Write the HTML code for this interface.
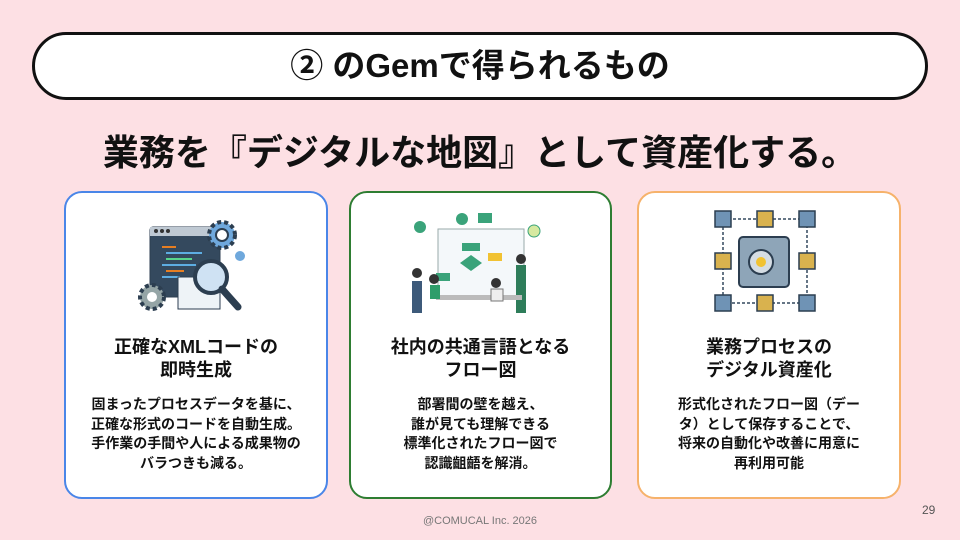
<!DOCTYPE html>
<html><head><meta charset="utf-8"><style>
*{margin:0;padding:0;box-sizing:border-box}
body{width:960px;height:540px;background:#fde0e4;font-family:"Liberation Sans","Noto Sans CJK JP",sans-serif;position:relative;overflow:hidden;color:#111}
.title{position:absolute;left:32px;top:32px;width:896px;height:68px;border:3px solid #111;border-radius:34px;background:#fff;text-align:center;font-size:33px;font-weight:bold;line-height:62px}
.head{position:absolute;left:0;width:960px;top:128px;text-align:center;font-size:36px;font-weight:bold;line-height:50px}
.card{position:absolute;top:191px;height:308px;background:#fff;border:2px solid;border-radius:18px;text-align:center}
.ct{position:absolute;left:0;right:0;font-size:18px;font-weight:bold;line-height:23px}
.cb{position:absolute;left:0;right:0;top:202px;font-size:14px;font-weight:bold;line-height:19.5px}
svg{position:absolute}
</style></head><body>
<div class="title">② のGemで得られるもの</div>
<div class="head">業務を『デジタルな地図』として資産化する。</div>

<div class="card" style="left:64px;width:264px;border-color:#4a86e8">
<svg style="left:70px;top:22px" width="122" height="100" viewBox="0 0 122 100">
<rect x="14" y="12" width="70" height="70" rx="3" fill="#34495e" stroke="#2c3e50"/>
<rect x="14" y="12" width="70" height="9" fill="#bfc9d3"/>
<circle cx="20" cy="16" r="2" fill="#333"/><circle cx="26" cy="16" r="2" fill="#333"/><circle cx="32" cy="16" r="2" fill="#333"/>
<g stroke-width="2"><line x1="26" y1="32" x2="40" y2="32" stroke="#e67e22"/><line x1="30" y1="38" x2="66" y2="38" stroke="#5dade2"/><line x1="30" y1="44" x2="56" y2="44" stroke="#58d68d"/><line x1="26" y1="50" x2="60" y2="50" stroke="#5dade2"/><line x1="30" y1="56" x2="48" y2="56" stroke="#e67e22"/><line x1="26" y1="62" x2="44" y2="62" stroke="#5dade2"/></g>
<circle cx="86" cy="20" r="13" fill="#6fa8dc" stroke="#2c3e50" stroke-width="4" stroke-dasharray="4 3"/>
<circle cx="86" cy="20" r="6" fill="#fff" stroke="#2c3e50" stroke-width="2"/>
<circle cx="16" cy="82" r="12" fill="#95a5a6" stroke="#2c3e50" stroke-width="4" stroke-dasharray="4 3"/>
<circle cx="16" cy="82" r="5" fill="#fff"/>
<rect x="42" y="62" width="42" height="32" fill="#eef3f7" stroke="#2c3e50"/>
<circle cx="75" cy="62" r="16" fill="#cfe2f3" stroke="#2c3e50" stroke-width="4"/>
<line x1="86" y1="74" x2="102" y2="92" stroke="#2c3e50" stroke-width="7" stroke-linecap="round"/>
<circle cx="104" cy="41" r="5" fill="#6fa8dc"/>
</svg>
<div class="ct" style="top:143px">正確なXMLコードの<br>即時生成</div>
<div class="cb">固まったプロセスデータを基に、<br>正確な形式のコードを自動生成。<br>手作業の手間や人による成果物の<br>バラつきも減る。</div>
</div>

<div class="card" style="left:349px;width:263px;border-color:#2e7d32">
<svg style="left:55px;top:18px" width="150" height="104" viewBox="0 0 150 104">
<rect x="32" y="18" width="86" height="68" fill="#f4f8fa" stroke="#9aa"/>
<rect x="56" y="32" width="18" height="8" fill="#3aa37a"/><polygon points="65,44 76,52 65,60 54,52" fill="#3aa37a"/><rect x="82" y="42" width="14" height="8" fill="#f1c232"/><rect x="30" y="62" width="14" height="8" fill="#3aa37a"/>
<circle cx="14" cy="16" r="6" fill="#3aa37a"/><rect x="72" y="2" width="14" height="10" fill="#3aa37a"/><circle cx="56" cy="8" r="6" fill="#3aa37a"/><circle cx="128" cy="20" r="6" fill="#d6e9a0" stroke="#3aa37a"/>
<rect x="6" y="70" width="10" height="32" fill="#3d5a7a"/><circle cx="11" cy="62" r="5" fill="#333"/>
<rect x="110" y="54" width="10" height="48" fill="#2e7d5a"/><circle cx="115" cy="48" r="5" fill="#333"/>
<rect x="30" y="84" width="86" height="5" fill="#bbb"/>
<circle cx="28" cy="68" r="5" fill="#333"/><rect x="24" y="74" width="10" height="14" fill="#2e9d6a"/>
<circle cx="90" cy="72" r="5" fill="#333"/><rect x="85" y="78" width="12" height="12" fill="#eee" stroke="#777"/>
</svg>
<div class="ct" style="top:143px">社内の共通言語となる<br>フロー図</div>
<div class="cb">部署間の壁を越え、<br>誰が見ても理解できる<br>標準化されたフロー図で<br>認識齟齬を解消。</div>
</div>

<div class="card" style="left:637px;width:264px;border-color:#f6b26b">
<svg style="left:70px;top:14px" width="112" height="110" viewBox="0 0 112 110">
<g stroke="#34495e" stroke-width="1.5" stroke-dasharray="3 2" fill="none"><rect x="14" y="12" width="84" height="84"/></g>
<rect x="30" y="30" width="50" height="50" rx="4" fill="#8ea5b8" stroke="#2c3e50" stroke-width="2"/>
<circle cx="52" cy="55" r="12" fill="#d5dde4" stroke="#2c3e50" stroke-width="2"/><circle cx="52" cy="55" r="5" fill="#f1c232"/>
<g stroke="#2c3e50" stroke-width="1.5">
<rect x="6" y="4" width="16" height="16" fill="#6f93b5"/><rect x="48" y="4" width="16" height="16" fill="#d9b24e"/><rect x="90" y="4" width="16" height="16" fill="#6f93b5"/>
<rect x="6" y="46" width="16" height="16" fill="#d9b24e"/><rect x="90" y="46" width="16" height="16" fill="#d9b24e"/>
<rect x="6" y="88" width="16" height="16" fill="#6f93b5"/><rect x="48" y="88" width="16" height="16" fill="#d9b24e"/><rect x="90" y="88" width="16" height="16" fill="#6f93b5"/></g>
</svg>
<div class="ct" style="top:143px">業務プロセスの<br>デジタル資産化</div>
<div class="cb">形式化されたフロー図（デー<br>タ）として保存することで、<br>将来の自動化や改善に用意に<br>再利用可能</div>
</div>

<div style="position:absolute;left:0;width:960px;top:515px;text-align:center;font-size:11px;color:#777">@COMUCAL Inc. 2026</div>
<div style="position:absolute;left:922px;top:503px;font-size:12px;color:#555">29</div>
</body></html>
